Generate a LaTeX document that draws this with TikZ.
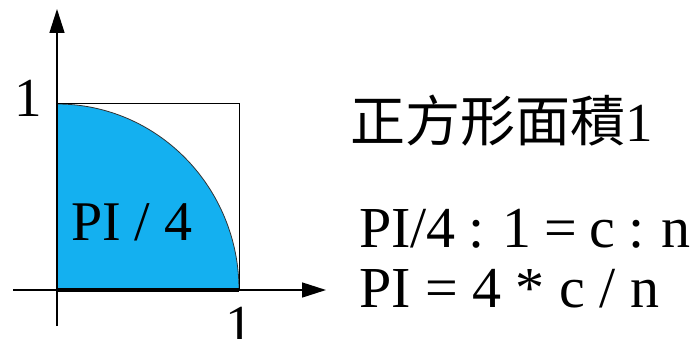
\documentclass[tikz,border=0pt]{standalone}
\usepackage{fontspec}
\setmainfont{Liberation Serif}
\newfontfamily\cjk{Noto Sans CJK TC}
\usetikzlibrary{arrows.meta}
\definecolor{qblue}{RGB}{20,176,240}
\begin{document}
\begin{tikzpicture}[x=1pt,y=-1pt,
  axis/.style={line width=1.5pt,-{Triangle[length=24pt,width=15pt]}},
  big/.style={inner sep=0pt,font=\fontsize{58}{60}\selectfont},
  ]
\useasboundingbox (0,0) rectangle (692,339);
\clip (0,0) rectangle (692,339);
\coordinate (O) at (57,290);
\coordinate (A) at (239,290);
\coordinate (B) at (57,104);
\coordinate (C) at (239,104);
% quarter disc
\fill[qblue] (O) -- (A) arc[start angle=0,end angle=-90,x radius=182,y radius=186] -- cycle;
\draw[line width=0.8pt,black!80] (A) arc[start angle=0,end angle=-90,x radius=182,y radius=186];
% square
\draw[line width=1pt] (B) -- (C) -- (A);
\draw[line width=4pt] (O) -- (A);
% axes
\coordinate (xs) at (13,290);
\coordinate (xe) at (326,290);
\coordinate (ys) at (57,326);
\coordinate (ye) at (57,9);
\draw[axis] (xs) -- (xe);
\draw[axis] (ys) -- (ye);
% labels
\node[big,anchor=base,font=\fontsize{55}{60}\selectfont] (one1) at (28,117) {1};
\node[big,anchor=base,font=\fontsize{55}{60}\selectfont] (one2) at (239,343) {1};
\node[big,anchor=base west,font=\fontsize{56}{60}\selectfont] (pi4) at (71,240) {PI / 4};
% right texts
\node[inner sep=0pt,anchor=west,font=\fontsize{55}{60}\selectfont] (head) at (350,121) {{\cjk 正方形面積}1};
\node[big,anchor=base west] (eq1) at (359,247) {\spaceskip=0.22em PI/4 : 1 = c : n};
\node[big,anchor=base west] (eq2) at (359,307) {PI = 4 * c / n};
\end{tikzpicture}
\end{document}
